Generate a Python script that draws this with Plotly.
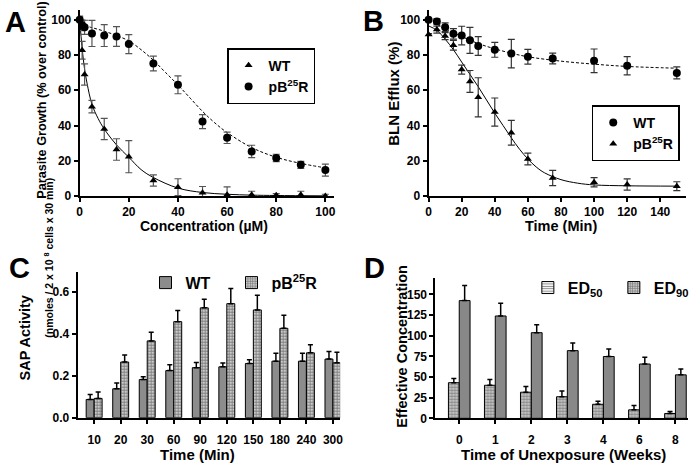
import plotly.graph_objects as go

# ---------------- Panel A data ----------------
a_conc = [0, 1, 2, 5, 10, 15, 20, 30, 40, 50, 60, 70, 80, 90, 100]
a_wt = [100, 82.7, 68.9, 50.7, 38, 26.4, 22.3, 8.8, 5, 1.9, 0.7, 0.7, 0.4, 0.7, 0]
a_wt_err = [1.5, 5, 6, 3.5, 6, 6.1, 9.1, 3.2, 4.8, 3.5, 4.5, 2, 1, 2, 1]
a_r = [100, 96.8, 95.7, 92.2, 91, 90.5, 86.2, 75.2, 63.1, 42.2, 33, 25.3, 21.6, 17.7, 14.7]
a_r_err = [2, 3, 4, 7.4, 6.2, 5.6, 5.4, 4.2, 5.1, 4, 3.2, 3.5, 2.1, 2, 3.4]
a_wt_fit_x = [0, 1, 2, 3, 5, 7.5, 10, 15, 20, 25, 30, 40, 50, 60, 70, 80, 100]
a_wt_fit_y = [100, 84, 72, 64, 52, 44, 38, 29, 22, 15, 10.5, 4.5, 2, 1, 0.5, 0.3, 0.1]
a_r_fit_x = [0, 5, 10, 15, 20, 25, 30, 35, 40, 45, 50, 55, 60, 70, 80, 90, 100]
a_r_fit_y = [97.5, 95.5, 93.5, 91, 88, 83, 77, 70, 63, 55.5, 48, 41.5, 36, 27.5, 22, 18.5, 16]

# ---------------- Panel B data ----------------
b_time = [0, 5, 10, 15, 20, 25, 30, 40, 50, 60, 75, 100, 120, 150]
b_wt = [100, 99, 95.7, 92, 91, 88.3, 85.1, 82.9, 80.8, 79, 78, 76.7, 73.9, 69.8]
b_wt_err = [0.5, 1.5, 2.5, 3, 5.3, 7.4, 5.3, 4.2, 8.1, 4.2, 3, 6.7, 5.2, 3.4]
b_r = [91.6, 94.4, 90.7, 85.5, 71.7, 65, 56, 47.6, 35.9, 21, 10.2, 7.8, 6.5, 5.6]
b_r_err = [0.5, 2, 2, 2.8, 2.6, 6.2, 11.1, 8, 7, 3.3, 4.3, 2.6, 3.2, 2.5]
b_wt_fit_x = [0, 10, 20, 30, 40, 50, 60, 80, 100, 120, 150]
b_wt_fit_y = [100, 95, 90.5, 86.5, 83.5, 81, 79, 76.5, 74.8, 73.5, 72.5]
b_r_fit_x = [0, 5, 10, 15, 20, 25, 30, 35, 40, 45, 50, 55, 60, 65, 70, 80, 90, 100, 120, 150]
b_r_fit_y = [96.5, 94, 89, 83, 76, 69, 62, 54.5, 47, 40, 33, 26.5, 21, 16.5, 13.2, 9.3, 7.3, 6.3, 5.8, 5.6]

# ---------------- Panel C data ----------------
c_time = ["10", "20", "30", "60", "90", "120", "150", "180", "240", "300"]
c_wt = [0.087, 0.138, 0.182, 0.225, 0.239, 0.243, 0.259, 0.27, 0.27, 0.28]
c_wt_err = [0.024, 0.028, 0.014, 0.028, 0.025, 0.018, 0.018, 0.038, 0.038, 0.036]
c_r = [0.092, 0.266, 0.367, 0.459, 0.525, 0.545, 0.515, 0.427, 0.31, 0.262]
c_r_err = [0.031, 0.034, 0.041, 0.053, 0.041, 0.072, 0.07, 0.063, 0.038, 0.051]

# ---------------- Panel D data ----------------
d_weeks = ["0", "1", "2", "3", "4", "6", "8"]
d_ed50 = [43.1, 40, 31.6, 26.1, 17, 10.3, 5.9]
d_ed50_err = [5.2, 7, 6.8, 7.1, 3.6, 5.1, 2.4]
d_ed90 = [142.4, 123.8, 103.6, 81.9, 74.8, 65.7, 52.6]
d_ed90_err = [18.2, 15.4, 9.5, 9.1, 9.1, 8.3, 7.1]

W, H = 700, 468
FONT = "Liberation Sans, Arial, sans-serif"


def px(x):
    return x / W


def py(y):
    return 1 - y / H


fig = go.Figure()

err_s = dict(type="data", color="#555555", thickness=1.2, width=3.5)

# Panel A
fig.add_trace(go.Scatter(x=a_wt_fit_x, y=a_wt_fit_y, mode="lines", line=dict(color="black", width=1, shape="spline"),
                         xaxis="x", yaxis="y", showlegend=False, hoverinfo="skip"))
fig.add_trace(go.Scatter(x=a_r_fit_x, y=a_r_fit_y, mode="lines", line=dict(color="black", width=1, dash="3px,2px", shape="spline"),
                         xaxis="x", yaxis="y", showlegend=False, hoverinfo="skip"))
fig.add_trace(go.Scatter(x=a_conc, y=a_wt, mode="markers", name="WT", legend="legend",
                         marker=dict(symbol="triangle-up", size=7, color="black"),
                         error_y=dict(array=a_wt_err, **err_s), xaxis="x", yaxis="y", cliponaxis=False))
fig.add_trace(go.Scatter(x=a_conc, y=a_r, mode="markers", name="pB<sup>25</sup>R", legend="legend",
                         marker=dict(symbol="circle", size=8, color="black"),
                         error_y=dict(array=a_r_err, **err_s), xaxis="x", yaxis="y", cliponaxis=False))

# Panel B
fig.add_trace(go.Scatter(x=b_wt_fit_x, y=b_wt_fit_y, mode="lines", line=dict(color="black", width=1, dash="3px,2px", shape="spline"),
                         xaxis="x2", yaxis="y2", showlegend=False, hoverinfo="skip"))
fig.add_trace(go.Scatter(x=b_r_fit_x, y=b_r_fit_y, mode="lines", line=dict(color="black", width=1, shape="spline"),
                         xaxis="x2", yaxis="y2", showlegend=False, hoverinfo="skip"))
fig.add_trace(go.Scatter(x=b_time, y=b_wt, mode="markers", name="WT", legend="legend2",
                         marker=dict(symbol="circle", size=8, color="black"),
                         error_y=dict(array=b_wt_err, type="data", color="#333333", thickness=1.2, width=3.5),
                         xaxis="x2", yaxis="y2", cliponaxis=False))
fig.add_trace(go.Scatter(x=b_time, y=b_r, mode="markers", name="pB<sup>25</sup>R", legend="legend2",
                         marker=dict(symbol="triangle-up", size=7, color="black"),
                         error_y=dict(array=b_r_err, type="data", color="#333333", thickness=1.2, width=3.5),
                         xaxis="x2", yaxis="y2", cliponaxis=False))

err_b = dict(type="data", symmetric=False, color="black", thickness=1.5, width=2.5)
checker = dict(shape=".", fgcolor="black", bgcolor="white", size=3, solidity=0.7)

# Panel C
fig.add_trace(go.Bar(x=c_time, y=c_wt, name="WT", legend="legend3",
                     marker=dict(color="#8c8c8c", line=dict(color="black", width=1)),
                     error_y=dict(array=c_wt_err, arrayminus=[0] * len(c_wt), **err_b),
                     xaxis="x3", yaxis="y3"))
fig.add_trace(go.Bar(x=c_time, y=c_r, name="pB<sup>25</sup>R", legend="legend3",
                     marker=dict(color="white", line=dict(color="black", width=1), pattern=checker),
                     error_y=dict(array=c_r_err, arrayminus=[0] * len(c_r), **err_b),
                     xaxis="x3", yaxis="y3"))

# Panel D
fig.add_trace(go.Bar(x=d_weeks, y=d_ed50, name="ED<sub>50</sub>", showlegend=False, offsetgroup="ed50",
                     marker=dict(color="white", line=dict(color="black", width=1),
                                 pattern=dict(shape=".", fgcolor="#222222", bgcolor="#e0e0e0", size=3, solidity=0.65)),
                     error_y=dict(array=d_ed50_err, arrayminus=[0] * len(d_ed50), **err_b),
                     xaxis="x4", yaxis="y4"))
fig.add_trace(go.Bar(x=d_weeks, y=d_ed90, name="ED<sub>90</sub>", showlegend=False, offsetgroup="ed90",
                     marker=dict(color="#8a8a8a", line=dict(color="black", width=1),
                                 pattern=dict(shape=".", fgcolor="#666666", bgcolor="#909090", size=2, solidity=0.4)),
                     error_y=dict(array=d_ed90_err, arrayminus=[0] * len(d_ed90), **err_b),
                     xaxis="x4", yaxis="y4"))
# legend entries for panel D (as drawn in the original key)
fig.add_trace(go.Bar(x=[d_weeks[0]], y=[None], name="ED<sub>50</sub>", legend="legend4", offsetgroup="ed50",
                     marker=dict(color="white", line=dict(color="black", width=1),
                                 pattern=dict(shape="-", fgcolor="black", bgcolor="white", size=3, solidity=0.4)),
                     xaxis="x4", yaxis="y4"))
fig.add_trace(go.Bar(x=[d_weeks[0]], y=[None], name="ED<sub>90</sub>", legend="legend4", offsetgroup="ed90",
                     marker=dict(color="white", line=dict(color="black", width=1), pattern=checker),
                     xaxis="x4", yaxis="y4"))

tickfont = dict(family=FONT, size=12, color="black", weight="bold")
axis_common = dict(showline=True, linecolor="black", linewidth=2, ticks="outside", ticklen=4, tickwidth=1.5,
                   tickcolor="black", showgrid=False, zeroline=False, tickfont=tickfont, mirror=False)

fig.update_layout(
    width=W, height=H, margin=dict(l=0, r=0, t=0, b=0),
    paper_bgcolor="white", plot_bgcolor="white",
    font=dict(family=FONT, color="black"),
    barmode="group", bargap=0.4, bargroupgap=0,
    xaxis=dict(domain=[px(78), px(337)], range=[0, 103.6], tickvals=[0, 20, 40, 60, 80, 100], anchor="y", **axis_common),
    yaxis=dict(domain=[py(199), py(10)], range=[0, 105.6], tickvals=[0, 20, 40, 60, 80, 100], anchor="x", **axis_common),
    xaxis2=dict(domain=[px(433), px(695)], range=[0, 155.6], tickvals=[0, 20, 40, 60, 80, 100, 120, 140], anchor="y2", **axis_common),
    yaxis2=dict(domain=[py(199), py(10)], range=[0, 105.6], tickvals=[0, 20, 40, 60, 80, 100], anchor="x2", **axis_common),
    xaxis3=dict(domain=[px(76), px(343)], range=[-0.62, 9.27], type="category", anchor="y3", ticklabelstandoff=6, **axis_common),
    yaxis3=dict(domain=[py(424), py(276)], range=[0, 0.697], tickvals=[0, 0.2, 0.4, 0.6], tickformat=".1f", anchor="x3", **axis_common),
    xaxis4=dict(domain=[px(440), px(697)], range=[-0.66, 6.35], type="category", anchor="y4", ticklabelstandoff=5, **axis_common),
    yaxis4=dict(domain=[py(424.7), py(282)], range=[0, 170], tickvals=[0, 25, 50, 75, 100, 125, 150], anchor="x4", **axis_common),
    legend=dict(x=px(228), y=py(49), xanchor="left", yanchor="top", bordercolor="black", borderwidth=1.5,
                bgcolor="white", font=dict(family=FONT, size=14, weight="bold"), itemwidth=30, tracegroupgap=0),
    legend2=dict(x=px(599), y=py(107), xanchor="left", yanchor="top", bordercolor="black", borderwidth=1.5,
                 bgcolor="white", font=dict(family=FONT, size=14, weight="bold"), itemwidth=30),
    legend3=dict(x=px(145), y=py(287), xanchor="left", yanchor="middle", orientation="h", bgcolor="rgba(0,0,0,0)",
                 font=dict(family=FONT, size=16, weight="bold"), itemwidth=30, entrywidth=41),
    legend4=dict(x=px(534), y=py(292), xanchor="left", yanchor="middle", orientation="h", bgcolor="rgba(0,0,0,0)",
                 font=dict(family=FONT, size=16, weight="bold"), itemwidth=30, entrywidth=41),
)

ann = []


def label(text, x, y, size, angle=0, xanchor="center", yanchor="middle"):
    ann.append(dict(text=text, x=px(x), y=py(y), xref="paper", yref="paper", showarrow=False,
                    textangle=angle, xanchor=xanchor, yanchor=yanchor,
                    font=dict(family=FONT, size=size, color="black", weight="bold")))


label("A", 0, 22, 29, xanchor="left")
label("B", 364, 21, 29, xanchor="left")
label("C", 4, 272, 29, xanchor="left")
label("D", 365, 272, 29, xanchor="left")

label("Parasite Growth (% over control)", 40, 204, 12.7, angle=-90, yanchor="bottom")
label("Concentration (µM)", 205, 229, 14)
label("BLN Efflux (%)", 397, 95, 15, angle=-90)
label("Time (Min)", 568, 229, 14.5)
label("SAP Activity", 22, 343, 14.5, angle=-90)
ann.append(dict(text="(nmoles / 2 x 10 <sup>8</sup> cells x 30 min)", x=px(38), y=py(345), xref="paper", yref="paper",
                showarrow=False, textangle=-90, font=dict(family=FONT, size=10.5, color="black", weight="bold")))
label("Time (Min)", 198, 461, 15)
label("Effective Concentration", 406, 352, 14.5, angle=-90)
label("Time of Unexposure (Weeks)", 570, 461, 15)

fig.update_layout(annotations=ann)

fig.write_html("out.html", config={"displayModeBar": False},
               post_script="document.body.style.margin='0';document.body.style.padding='0';")
